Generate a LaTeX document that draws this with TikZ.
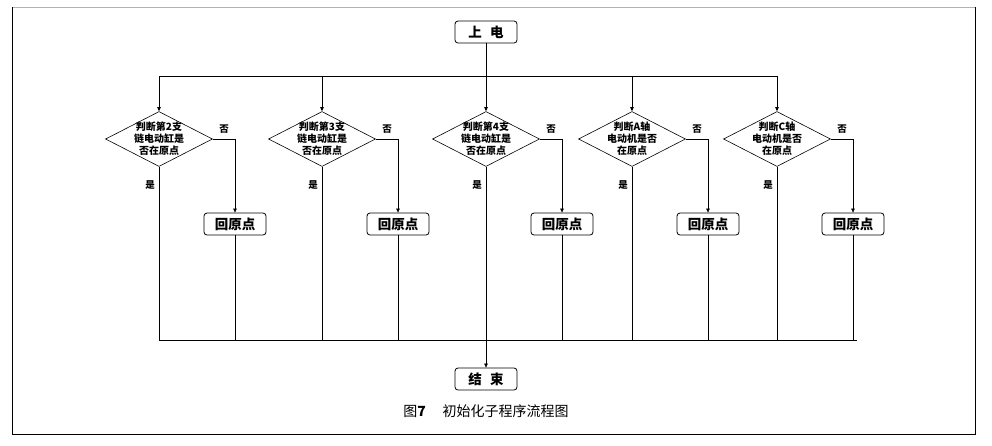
\documentclass[tikz,border=0pt]{standalone}
\usepackage{fontspec}
\setmainfont{Noto Sans CJK SC}
\usetikzlibrary{shapes.geometric}
\usetikzlibrary{arrows.meta}
\tikzset{
  term/.style={rectangle, rounded corners=3pt, draw=black, line width=0.8pt, minimum width=62pt, minimum height=22pt, inner sep=0pt, font=\fontsize{13.5}{13.5}\selectfont\bfseries},
  dec/.style={diamond, draw=black, line width=0.6pt, minimum width=107pt, minimum height=55pt, inner sep=0pt},
  dectext/.style={align=center, inner sep=0pt, font=\fontsize{10}{12}\selectfont\bfseries},
  yn/.style={font=\fontsize{9.5}{10}\selectfont\bfseries, inner sep=0pt},
  flow/.style={line width=0.6pt, color=black},
  arr/.style={flow, -{Triangle[length=4pt,width=3.5pt]}}
}
\begin{document}
\begin{tikzpicture}[x=1pt,y=-1pt]
\useasboundingbox (0,0) rectangle (992,445);
\draw [line width=0.8pt, color=black!30] (12,7) -- (975,7);
\draw [line width=0.8pt, color=black] (975,7) -- (975,434) -- (12,434) -- (12,7);
\node (start) [term] at (486,32) {上\hspace{0.6em}电};
\node (end) [term] at (486,379) {结\hspace{0.6em}束};
\node (cap) [font=\fontsize{14}{14}\selectfont] at (486,411) {图\textbf{7}\hspace{1.2em}初始化子程序流程图};
\coordinate (busL) at (159,76);
\coordinate (busR) at (777,76);
\coordinate (joinL) at (159,340);
\coordinate (joinR) at (857,340);
\coordinate (joinM) at (486,340);
\coordinate (startB) at (486,76);
\draw [flow] (start) -- (startB);
\draw [flow] (busL) -- (busR);
\foreach \i/\x/\t in {1/159/{判断第2支\\链电动缸是\\否在原点},
                      2/322/{判断第3支\\链电动缸是\\否在原点},
                      3/486/{判断第4支\\链电动缸是\\否在原点},
                      4/632/{判断A轴\\电动机是否\\在原点},
                      5/777/{判断C轴\\电动机是否\\在原点}} {
  \node (d\i) [dec] at (\x,139) {};
  \node (t\i) [dectext] at (d\i) {\t};
  \node (h\i) [term] at (\x+76,224) {回原点};
  \node (no\i) [yn] at (\x+65,129) {否};
  \node (yes\i) [yn] at (\x-9,185) {是};
  \coordinate (top\i) at (\x,76);
  \coordinate (bot\i) at (\x,340);
  \coordinate (hb\i) at (\x+76,340);
  \draw [arr] (top\i) -- (d\i.north);
  \draw [arr] (d\i.east) -| (h\i.north);
  \draw [flow] (d\i.south) -- (bot\i);
  \draw [flow] (h\i.south) -- (hb\i);
}
\draw [flow] (joinL) -- (joinR);
\draw [arr] (joinM) -- (end);
\end{tikzpicture}
\end{document}
